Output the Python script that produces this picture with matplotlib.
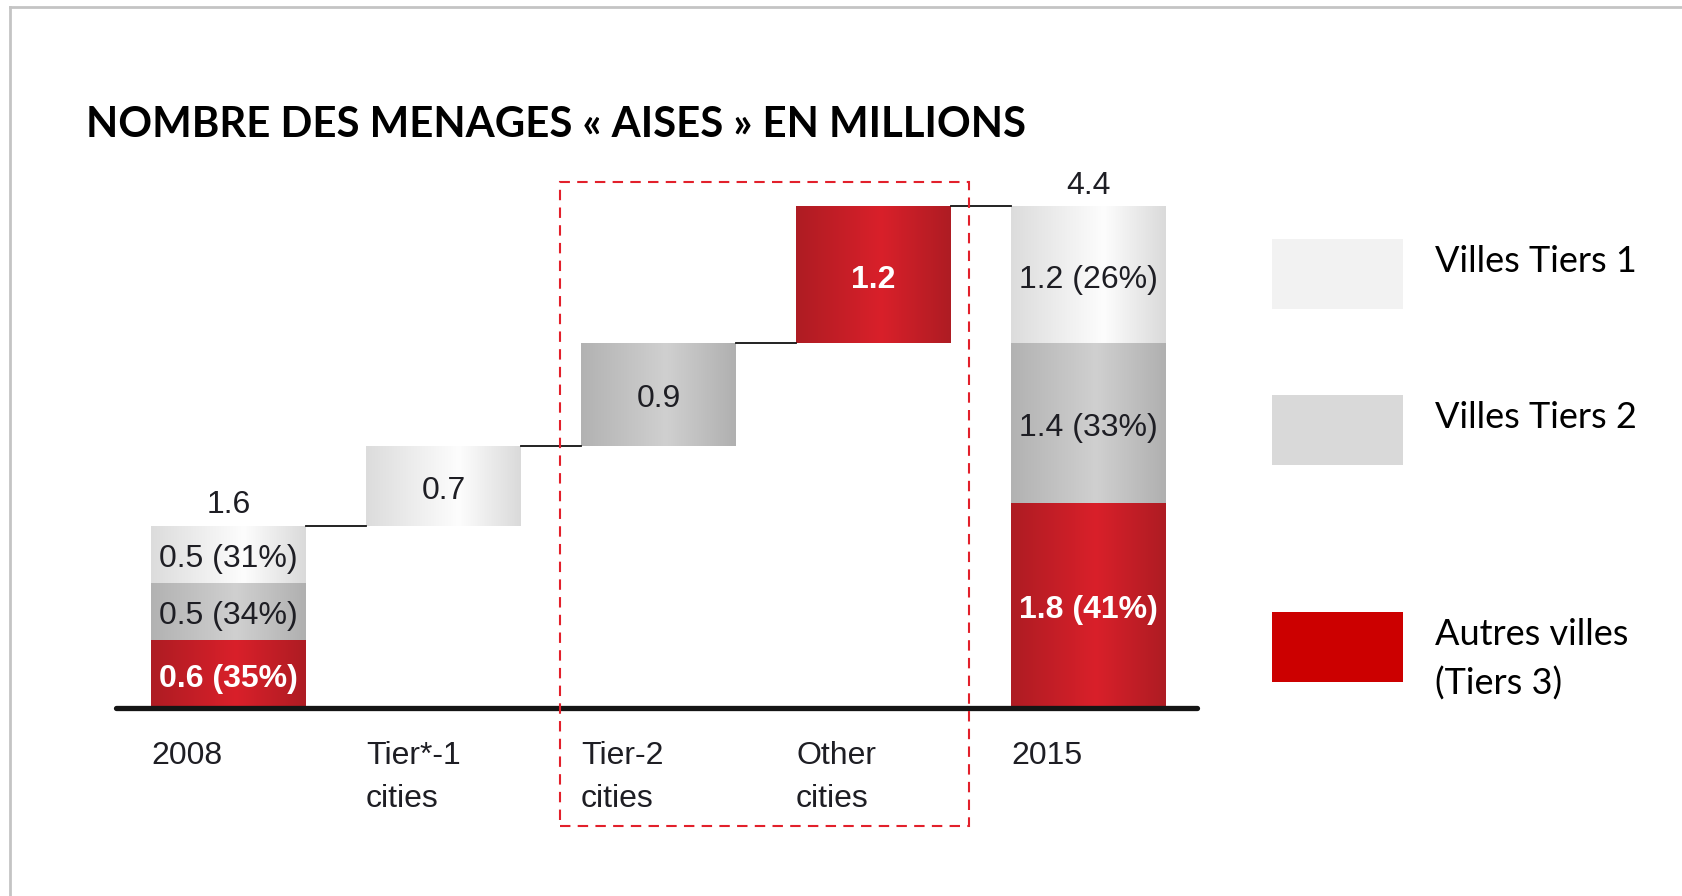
import numpy as np
import matplotlib
matplotlib.use("Agg")
import matplotlib.pyplot as plt
from matplotlib.colors import LinearSegmentedColormap
from matplotlib.patches import Rectangle
from matplotlib.lines import Line2D

# ---------------- data ----------------
categories = ["2008", "Tier*-1\ncities", "Tier-2\ncities", "Other\ncities", "2015"]
stack_2008 = [0.6, 0.5, 0.5]            # Autres villes, Tiers 2, Tiers 1 (bottom -> top)
labels_2008 = ["0.6 (35%)", "0.5 (34%)", "0.5 (31%)"]
increments = [0.7, 0.9, 1.2]            # Tier-1, Tier-2, Other cities
increment_labels = ["0.7", "0.9", "1.2"]
stack_2015 = [1.8, 1.4, 1.2]
labels_2015 = ["1.8 (41%)", "1.4 (33%)", "1.2 (26%)"]
totals = [1.6, 4.4]
total_labels = ["1.6", "4.4"]
legend_labels = ["Villes Tiers 1", "Villes Tiers 2", "Autres villes\n(Tiers 3)"]
title = "NOMBRE DES MENAGES « AISES » EN MILLIONS"

# ---------------- style ----------------
W, H = 1683, 896
fig = plt.figure(figsize=(W / 100, H / 100), dpi=100)
fig.patch.set_facecolor("white")
ax = fig.add_axes([0, 0, 1, 1])
ax.set_axis_off()

PX_X0, PX_STEP = 228.5, 215.0     # pixel of category 0 centre, pixels per category
PX_Y0, PX_UNIT = 708.0, 114.0     # pixel of value 0, pixels per unit
ax.set_xlim(-PX_X0 / PX_STEP, (W - PX_X0) / PX_STEP)
ax.set_ylim(-(H - PX_Y0) / PX_UNIT, PX_Y0 / PX_UNIT)

cm_light = LinearSegmentedColormap.from_list("l", [(0, "#DCDCDC"), (0.6, "#FDFDFD"), (1, "#DADADA")])
cm_gray = LinearSegmentedColormap.from_list("g", [(0, "#B2B2B2"), (0.55, "#D0D0D0"), (1, "#B0B0B0")])
cm_red = LinearSegmentedColormap.from_list("r", [(0, "#AE1C23"), (0.55, "#D9202A"), (1, "#AE1C23")])
cmaps = [cm_red, cm_gray, cm_light]   # Autres, Tiers 2, Tiers 1
grad = np.linspace(0, 1, 256).reshape(1, -1)

FONT = ["Liberation Sans", "DejaVu Sans"]
TXT = "#1E1E24"
FS = 23
bw = 155 / PX_STEP
x = np.arange(len(categories))


def grad_bar(xc, bottom, height, cmap):
    bars = ax.bar(xc, height, bottom=bottom, width=bw, color="none", zorder=2)
    p = bars[0]
    ax.imshow(grad, extent=[p.get_x(), p.get_x() + p.get_width(), p.get_y(), p.get_y() + p.get_height()],
              cmap=cmap, aspect="auto", interpolation="bilinear", zorder=2)
    return p


def seg_label(xc, ymid, text, red):
    ax.annotate(text, (xc, ymid), xytext=(0, -3.5), textcoords="offset points", ha="center", va="center",
                fontsize=FS, family=FONT, color="white" if red else TXT,
                fontweight="bold" if red else "normal", zorder=4)


# stacked 2008 and 2015 bars
for xi, stack, labs in [(x[0], stack_2008, labels_2008), (x[4], stack_2015, labels_2015)]:
    b = 0
    for k, (v, lab) in enumerate(zip(stack, labs)):
        grad_bar(xi, b, v, cmaps[k])
        seg_label(xi, b + v / 2, lab, k == 0)
        b += v

# floating increments
levels = np.concatenate([[totals[0]], totals[0] + np.cumsum(increments)])
inc_cmaps = [cm_light, cm_gray, cm_red]
for i, (v, lab) in enumerate(zip(increments, increment_labels)):
    grad_bar(x[i + 1], levels[i], v, inc_cmaps[i])
    seg_label(x[i + 1], levels[i] + v / 2, lab, i == 2)

# connectors
for i in range(len(levels)):
    ax.plot([x[i] + bw / 2, x[i + 1] - bw / 2], [levels[i], levels[i]], color="#111111", lw=1.3, zorder=3)

# totals
for xi, t, lab in [(x[0], totals[0], total_labels[0]), (x[4], totals[1], total_labels[1])]:
    ax.annotate(lab, (xi, t), xytext=(0, 15), textcoords="offset points", ha="center", va="center",
                fontsize=FS, family=FONT, color=TXT)

# baseline axis
ax.plot([x[0] - 0.523, x[-1] + 0.505], [0, 0], color="#151515", lw=3.8, solid_capstyle="round", zorder=3)

# category labels
for xi, cat in zip(x, categories):
    for j, line in enumerate(cat.split("\n")):
        ax.annotate(line, (xi - bw / 2, 0), xytext=(0, -40 - 31 * j), textcoords="offset points",
                    ha="left", va="baseline", fontsize=FS, family=FONT, color=TXT)

# dashed highlight box around Tier-2 and Other cities
bx0, bx1 = x[2] - 0.5 + 0.042, x[3] + 0.5 - 0.056
by0, by1 = -1.035, totals[1] + 0.21
ax.add_patch(Rectangle((bx0, by0), bx1 - bx0, by1 - by0, fill=False, edgecolor="#E2202B", lw=1.5,
                       linestyle=(0, (5, 3.5)), zorder=5))

# title
fig.text(86 / W, 1 - 137 / H, title, fontsize=30.2, fontweight="bold", family=["Lato", "DejaVu Sans"],
         color="black", va="baseline", ha="left")

# legend
leg_colors = ["#F2F2F2", "#D9D9D9", "#CC0000"]
box_tops = [239, 395, 612]
for col, top, lab in zip(leg_colors, box_tops, legend_labels):
    fig.add_artist(Rectangle((1272 / W, 1 - (top + 70) / H), 131 / W, 70 / H, transform=fig.transFigure,
                             facecolor=col, edgecolor="none"))
    for j, line in enumerate(lab.split("\n")):
        fig.text(1435 / W, 1 - (top + 33 + 50 * j) / H, line, fontsize=26, family=["Lato", "DejaVu Sans"],
                 color="black", va="baseline", ha="left")

# frame border (top and left)
fig.add_artist(Line2D([10 / W, 1], [1 - 7 / H, 1 - 7 / H], transform=fig.transFigure, color="#C4C4C4", lw=2))
fig.add_artist(Line2D([10 / W, 10 / W], [0, 1 - 7 / H], transform=fig.transFigure, color="#C4C4C4", lw=2))

fig.savefig("out.png", dpi=100, facecolor="white")
